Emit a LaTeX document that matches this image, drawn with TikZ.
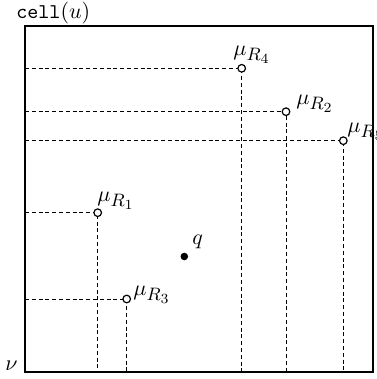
\documentclass[tikz,border=0pt]{standalone}
\DeclareMathSizes{11}{11}{9}{7}
\begin{document}
\begin{tikzpicture}[x=0.5pt,y=-0.5pt,
  boxline/.style={line width=0.9pt},
  guide/.style={line width=0.5pt,dash pattern=on 2pt off 1.4pt},
  mupt/.style={circle,draw,line width=0.6pt,fill=white,inner sep=0pt,minimum size=3.8pt},
  qpt/.style={circle,fill=black,inner sep=0pt,minimum size=3.8pt},
  lab/.style={anchor=west,inner sep=0pt,font=\fontsize{11}{13}\selectfont}]
\useasboundingbox (0,0) rectangle (376,379);
% box corners
\coordinate (tl) at (25,26);
\coordinate (br) at (373,372);
% points
\coordinate (p4) at (241.7,68.3);
\coordinate (p2) at (286,111.7);
\coordinate (p5) at (343.3,140.7);
\coordinate (p1) at (97.7,212.7);
\coordinate (p3) at (126.7,299);
% edge ends
\foreach \i in {1,...,5} {
  \coordinate (l\i) at (tl |- p\i);
  \coordinate (b\i) at (p\i |- br);
}
\foreach \i in {1,...,5} {
  \draw[guide] (l\i) -- (p\i) -- (b\i);
}
\draw[boxline] (tl) rectangle (br);
\foreach \i in {1,...,5} {
  \node[mupt] (m\i) at (p\i) {};
}
\node[qpt] (q) at (184.3,256.5) {};
\node[lab] (t4) at (233,55) {$\mu_{R_4}$};
\node[lab] (t2) at (296,104) {$\mu_{R_2}$};
\node[lab] (t5) at (347,132) {$\mu_{R_5}$};
\node[lab] (t1) at (97,201) {$\mu_{R_1}$};
\node[lab] (t3) at (133,295) {$\mu_{R_3}$};
\node[lab] (tq) at (192,242) {$q$};
\node[lab,font=\fontsize{10.5}{12}\selectfont] (tc) at (16,13) {\texttt{cell}$(u)$};
\node[lab] (tn) at (5,366) {$\nu$};
\end{tikzpicture}
\end{document}
